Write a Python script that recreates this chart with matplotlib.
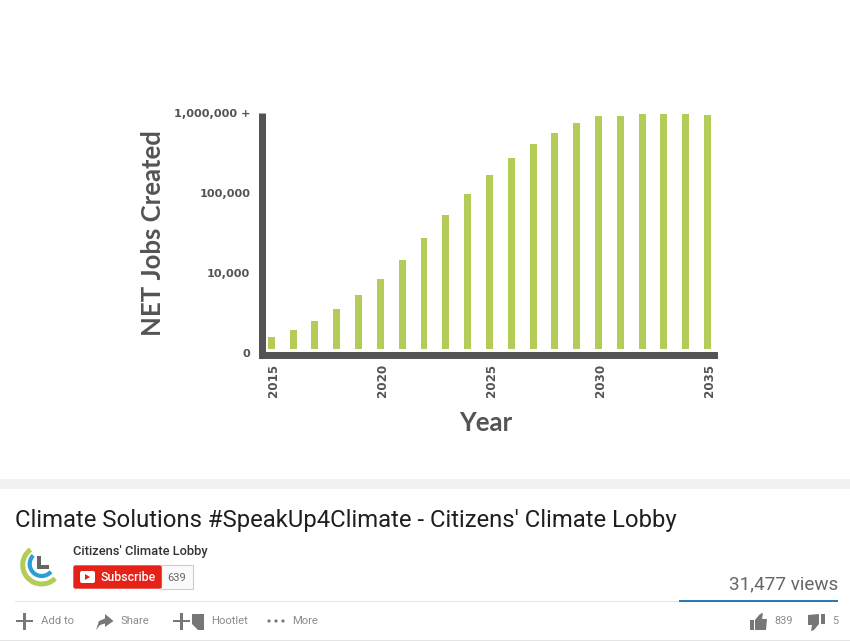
import matplotlib
matplotlib.use("Agg")
import matplotlib.pyplot as plt
from matplotlib.patches import Rectangle, Arc, Polygon, FancyBboxPatch, Circle
from matplotlib.transforms import ScaledTranslation

years = list(range(2015, 2036))
jobs = [1570, 1940, 2535, 3550, 5310, 8490, 14660, 27160, 53100, 98000, 168000,
        271000, 406000, 567000, 750000, 917000, 917000, 980000, 980000, 980000, 952000]
y_ticks = [1000, 10000, 100000, 1000000]
y_tick_labels = ["0", "10,000", "100,000", "1,000,000 +"]
x_ticks = [2015, 2020, 2025, 2030, 2035]

W, H = 850, 641
DARK = "#545356"
GREEN = "#b3cc57"
fig = plt.figure(figsize=(8.5, 6.41), dpi=100, facecolor="white")
px = 72 / 100

# pixel overlay for the page furniture
ui = fig.add_axes([0, 0, 1, 1])
ui.set_xlim(0, W); ui.set_ylim(H, 0); ui.axis("off")

# chart axes
L, R, T, B = 262, 713.5, 113, 353
ax = fig.add_axes([L / W, 1 - B / H, (R - L) / W, (B - T) / H])
ax.patch.set_alpha(0)
# set_position resets ticks, so the spines come first
for s in ("top", "right"):
    ax.spines[s].set_visible(False)
ax.spines["left"].set_linewidth(7 * px)
ax.spines["left"].set_color(DARK)
ax.spines["left"].set_capstyle("butt")
ax.spines["bottom"].set_linewidth(7 * px)
ax.spines["bottom"].set_color(DARK)
ax.spines["bottom"].set_position(("outward", 2 * px))

ax.set_yscale("log")
ax.bar(years, [v - 1122 for v in jobs], bottom=1122, width=0.32, color=GREEN, linewidth=0)
ax.set_xlim(2014.574, 2035.27)
ax.set_ylim(1000, 1000000)
ax.minorticks_off()
tick_font = dict(family="DejaVu Sans", fontweight="bold", color=DARK)
ax.set_yticks(y_ticks, y_tick_labels, fontsize=8.1, **tick_font)
ax.set_xticks(x_ticks, [str(x) for x in x_ticks], rotation=90, fontsize=8.6, **tick_font)
ax.tick_params(axis="both", length=0)
ax.tick_params(axis="y", pad=8.5)
ax.tick_params(axis="x", pad=6.4)
shift = ScaledTranslation(2 / 100, 0, fig.dpi_scale_trans)
for lab in ax.get_xticklabels():
    lab.set_transform(lab.get_transform() + shift)

ui.text(153, 233.5, "NET Jobs Created", rotation=90, ha="center", va="center",
        family="Lato", weight="bold", fontsize=18.5, color=DARK)
ui.text(486, 423, "Year", ha="center", va="center", family="Lato", weight="bold",
        fontsize=18.5, color=DARK)

# lower page band
ui.add_patch(Rectangle((0, 479), W, 10, color="#f1f1f1", lw=0))
ui.text(15, 521, "Climate Solutions #SpeakUp4Climate - Citizens' Climate Lobby", family="Roboto",
        fontsize=17.22, color="#1f1f1f", va="center")
ui.text(73, 551, "Citizens' Climate Lobby", family="Roboto", weight="medium", fontsize=9.3,
        color="#333333", va="center")

# logo
ui.add_patch(Arc((41.7, 565), 38, 38, theta1=45, theta2=234, color=GREEN, lw=3.6))
ui.add_patch(Arc((41.7, 564), 24, 24, theta1=40, theta2=225, color="#2a9fd6", lw=3.0))
ui.add_patch(Polygon([(37, 556), (41, 556), (41, 565), (49, 565), (49, 569), (37, 569)], color="#666666", lw=0))

# subscribe button
ui.add_patch(Rectangle((161, 565), 32.5, 24, fc="#fafafa", ec="#cccccc", lw=0.8))
ui.add_patch(FancyBboxPatch((74, 566), 87, 22, boxstyle="round,pad=0,rounding_size=1.5", fc="#e62117", ec="#e62117", lw=1))
ui.add_patch(FancyBboxPatch((80, 571), 15, 12, boxstyle="round,pad=0,rounding_size=2", fc="white", lw=0))
ui.add_patch(Polygon([(85, 574), (85, 580), (90, 577)], color="#e62117", lw=0))
ui.text(101, 577.5, "Subscribe", family="Roboto", weight="medium", fontsize=8.9, color="white", va="center")
ui.text(177, 578, "639", family="Roboto", fontsize=8, color="#666666", va="center", ha="center")

# views
ui.text(838.5, 584.5, "31,477 views", family="Roboto", fontsize=13.6, color="#666666", va="center", ha="right")
ui.add_patch(Rectangle((15, 601), 823, 1, color="#e5e5e5", lw=0))
ui.add_patch(Rectangle((679, 600), 159, 2, color="#2b7bb9", lw=0))
ui.add_patch(Rectangle((0, 640), W, 1, color="#e5e5e5", lw=0))

# action row
GR = "#777777"
def cross(x0):
    ui.add_patch(Rectangle((x0, 620), 17, 2.4, color=GR, lw=0))
    ui.add_patch(Rectangle((x0 + 7.2, 612.5), 2.4, 17, color=GR, lw=0))
cross(16)
cross(173)
ui.add_patch(Polygon([(96, 630), (99, 621), (105, 618.5), (105, 614), (113.5, 621), (105, 627), (105, 623.5), (100, 625)], color=GR, lw=0))
ui.add_patch(Polygon([(192, 614), (204, 614), (204, 630), (198, 630), (192, 624)], color=GR, lw=0))
for cx in (269, 276, 283):
    ui.add_patch(Circle((cx, 621), 1.6, color=GR, lw=0))
for x, s in [(41, "Add to"), (121, "Share"), (211, "Hootlet"), (292, "More")]:
    ui.text(x, 621.5, s, family="Roboto", fontsize=8.1, color="#8c8c8c", va="center")
# thumbs
ui.add_patch(Rectangle((750, 620), 4, 10, color=GR, lw=0))
ui.add_patch(Polygon([(755, 620), (760, 614), (763, 613), (762, 619), (767, 619), (766, 630), (755, 630)], color=GR, lw=0))
ui.add_patch(Rectangle((821, 614), 4, 9.5, color=GR, lw=0))
ui.add_patch(Polygon([(808, 615), (819, 614), (819, 624), (814, 630), (811, 631), (812, 625), (808, 625)], color=GR, lw=0))
ui.text(774, 621.5, "839", family="Roboto", fontsize=7.8, color="#8c8c8c", va="center")
ui.text(832, 621.5, "5", family="Roboto", fontsize=7.8, color="#8c8c8c", va="center")

fig.savefig("out.png", dpi=100, facecolor="white")
